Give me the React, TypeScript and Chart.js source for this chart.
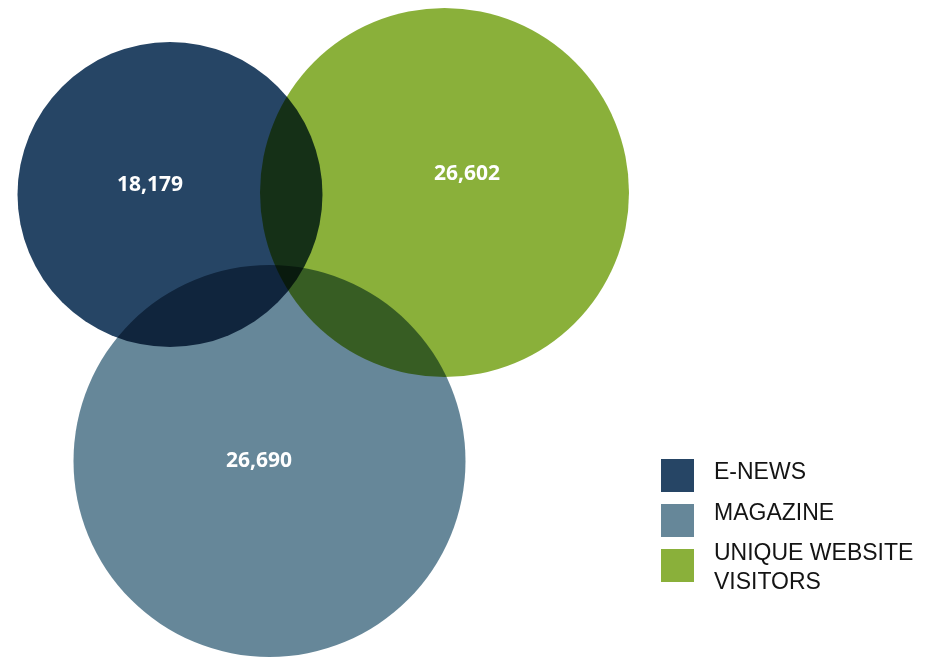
import React, { useEffect, useRef } from "react";
import { Chart, registerables } from "chart.js";

Chart.register(...registerables);

// ---- data ----
const categories = ["E-NEWS", "MAGAZINE", "UNIQUE WEBSITE VISITORS"];
const values = [18179, 26690, 26602];
// circle centres and radii (in chart units, 1 unit = 1 px on the hidden axes)
const circleX = [170, 269.5, 444.5];
const circleY = [194.5, 461, 192.5];
const circleR = [152.5, 196, 184.5];
// value label anchors (chart units)
const labelX = [150, 259, 467];
const labelY = [185.5, 461, 174];

const colors = ["#264565", "#668799", "#8ab03a"];

const multiplyPlugin = {
  id: "multiplyBlend",
  beforeDatasetsDraw(chart: any) {
    chart.ctx.save();
    chart.ctx.globalCompositeOperation = "multiply";
  },
  afterDatasetsDraw(chart: any) {
    chart.ctx.restore();
  },
};

const labelsPlugin = {
  id: "vennLabels",
  afterDraw(chart: any) {
    const ctx = chart.ctx;
    const xs = chart.scales.x;
    const ys = chart.scales.y;
    ctx.save();
    ctx.fillStyle = "#ffffff";
    ctx.font = "bold 21px 'Open Sans'";
    ctx.textAlign = "center";
    ctx.textBaseline = "middle";
    values.forEach((v, i) => {
      ctx.fillText(
        v.toLocaleString("en-US"),
        xs.getPixelForValue(labelX[i]),
        ys.getPixelForValue(labelY[i])
      );
    });

    // legend
    const sqX = 661;
    const sqTop = 459;
    const sqStep = 45;
    const sqSize = 33;
    const txtX = 714;
    let baseline = 479;
    const rowGap = 40.5;
    const lineH = 28.5;
    ctx.font = "23px 'Liberation Sans'";
    ctx.textAlign = "left";
    ctx.textBaseline = "alphabetic";
    chart.data.datasets.forEach((ds: any, i: number) => {
      ctx.fillStyle = ds.backgroundColor;
      ctx.fillRect(sqX, sqTop + i * sqStep, sqSize, sqSize);
      const words = String(ds.label).split(" ");
      const lines: string[] = [];
      let cur = "";
      words.forEach((w) => {
        const t = cur ? cur + " " + w : w;
        if (ctx.measureText(t).width > 218 && cur) {
          lines.push(cur);
          cur = w;
        } else cur = t;
      });
      if (cur) lines.push(cur);
      ctx.fillStyle = "#141414";
      lines.forEach((l, j) => {
        ctx.fillText(l, txtX, baseline + j * lineH);
      });
      baseline += rowGap + (lines.length - 1) * lineH;
    });
    ctx.restore();
  },
};

export default function App() {
  const ref = useRef<HTMLCanvasElement | null>(null);
  useEffect(() => {
    document.body.style.margin = "0";
    const chart = new Chart(ref.current as HTMLCanvasElement, {
      type: "bubble",
      data: {
        datasets: categories.map((c, i) => ({
          label: c,
          data: [{ x: circleX[i], y: circleY[i], r: circleR[i] }],
          backgroundColor: colors[i],
          borderWidth: 0,
          hoverBorderWidth: 0,
          clip: false as any,
          radius: (ctx: any) => {
            const raw = ctx.raw;
            const xs = ctx.chart.scales.x;
            if (!xs || !raw) return 0;
            const px = Math.abs(xs.getPixelForValue(raw.r) - xs.getPixelForValue(0));
            return isFinite(px) ? px : 0;
          },
        })),
      },
      options: {
        animation: false,
        responsive: false,
        events: [],
        layout: { padding: 0 },
        scales: {
          x: { type: "linear", min: 0, max: 936, display: false },
          y: { type: "linear", min: 0, max: 657, reverse: true, display: false },
        },
        plugins: {
          legend: { display: false },
          tooltip: { enabled: false },
        },
      },
      plugins: [multiplyPlugin, labelsPlugin],
    });
    // bubbles are allowed to extend to the canvas edges: no auto padding
    chart.data.datasets.forEach((_d: any, i: number) => {
      (chart.getDatasetMeta(i).controller as any).getMaxOverflow = () => false;
    });
    chart.update();
    return () => chart.destroy();
  }, []);
  return (
    <canvas
      ref={ref}
      width={936}
      height={657}
      style={{ position: "absolute", left: 0, top: 0, width: 936, height: 657 }}
    />
  );
}
